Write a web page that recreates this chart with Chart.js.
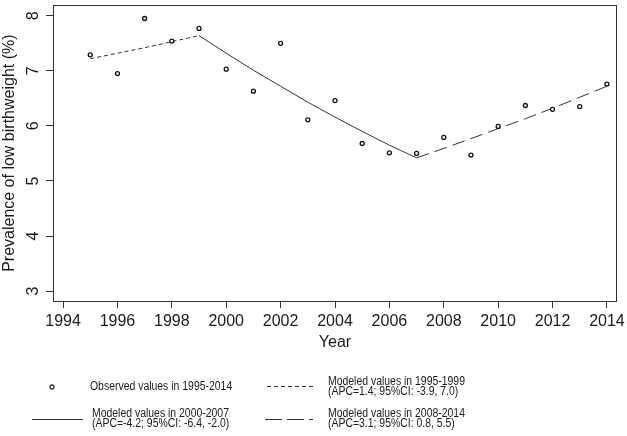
<!DOCTYPE html>
<html>
<head>
<meta charset="utf-8">
<script src="https://cdn.jsdelivr.net/npm/chart.js@4.4.0/dist/chart.umd.min.js"></script>
<style>
  html, body { margin: 0; padding: 0; background: #fff; }
</style>
</head>
<body>
<canvas id="lbw" width="627" height="436"></canvas>
<script>
// observed prevalence of low birthweight (%)
var years = [1995, 1996, 1997, 1998, 1999, 2000, 2001, 2002, 2003, 2004,
             2005, 2006, 2007, 2008, 2009, 2010, 2011, 2012, 2013, 2014];
var observed = [7.29, 6.95, 7.95, 7.54, 7.77, 7.03, 6.63, 7.50, 6.11, 6.46,
                5.68, 5.51, 5.50, 5.79, 5.47, 5.99, 6.37, 6.30, 6.35, 6.76];

// joinpoint segments
var seg1Years = [1995, 1996, 1997, 1998, 1999];
var seg1 = [7.22, 7.32, 7.42, 7.53, 7.64];
var seg2Years = [1999, 2000, 2001, 2002, 2003, 2004, 2005, 2006, 2007];
var seg2 = [7.64, 7.32, 7.01, 6.72, 6.43, 6.16, 5.90, 5.65, 5.42];
var seg3Years = [2007, 2008, 2009, 2010, 2011, 2012, 2013, 2014];
var seg3 = [5.42, 5.59, 5.77, 5.95, 6.13, 6.32, 6.52, 6.72];

var legendText = [
  ['Observed values in 1995-2014'],
  ['Modeled values in 1995-1999', '(APC=1.4; 95%CI: -3.9, 7.0)'],
  ['Modeled values in 2000-2007', '(APC=-4.2; 95%CI: -6.4, -2.0)'],
  ['Modeled values in 2008-2014', '(APC=3.1; 95%CI: 0.8, 5.5)']
];

function pts(xs, ys) {
  return xs.map(function (x, i) { return { x: x, y: ys[i] }; });
}

var ink = '#1a1a1a';
var lineCol = '#333';
var shortDash = [4, 3];
var longDash = [13, 6];

Chart.defaults.font.family = '"Liberation Sans", Arial, sans-serif';
Chart.defaults.color = ink;

// R-style legend under the plot + full box around the plot region
var rLegend = {
  id: 'rLegend',
  afterDraw: function (chart) {
    var c = chart.ctx, a = chart.chartArea;
    c.save();
    c.strokeStyle = lineCol;
    c.lineWidth = 1;
    c.strokeRect(Math.round(a.left) + 0.5, Math.round(a.top) + 0.5,
                 Math.round(a.right - a.left) - 1, Math.round(a.bottom - a.top));

    c.fillStyle = ink;
    c.font = '12px "Liberation Sans", Arial, sans-serif';
    c.textBaseline = 'middle';
    c.textAlign = 'left';

    // legend font is a bit condensed in the original
    function txt(s, x, y) {
      c.save();
      c.translate(x, y);
      c.scale(0.87, 1);
      c.fillText(s, 0, 0);
      c.restore();
    }

    // observed marker
    c.beginPath();
    c.arc(52, 387, 2, 0, Math.PI * 2);
    c.lineWidth = 1.3;
    c.stroke();
    txt(legendText[0][0], 90, 387);

    function seg(x0, x1, y, dash) {
      c.beginPath();
      c.setLineDash(dash);
      c.lineWidth = 1;
      c.moveTo(x0, y + 0.5);
      c.lineTo(x1, y + 0.5);
      c.stroke();
      c.setLineDash([]);
    }
    seg(267, 316, 386, shortDash);
    txt(legendText[1][0], 328, 382);
    txt(legendText[1][1], 328, 392);

    seg(32, 83, 419, []);
    txt(legendText[2][0], 92, 413.5);
    txt(legendText[2][1], 92, 423.5);

    seg(265, 313, 419, [17, 5]);
    txt(legendText[3][0], 328, 413.5);
    txt(legendText[3][1], 328, 423.5);
    c.restore();
  }
};

new Chart(document.getElementById('lbw'), {
  type: 'scatter',
  data: {
    datasets: [
      {
        label: 'Observed values in 1995-2014',
        data: pts(years, observed),
        pointStyle: 'circle',
        pointRadius: 2,
        pointBorderWidth: 1.3,
        pointBorderColor: '#111',
        pointBackgroundColor: '#fff',
        showLine: false,
        order: 0
      },
      {
        label: 'Modeled values in 1995-1999',
        data: pts(seg1Years, seg1),
        showLine: true,
        borderColor: lineCol,
        borderWidth: 1,
        borderDash: shortDash,
        pointRadius: 0,
        order: 1
      },
      {
        label: 'Modeled values in 2000-2007',
        data: pts(seg2Years, seg2),
        showLine: true,
        borderColor: lineCol,
        borderWidth: 1,
        pointRadius: 0,
        order: 1
      },
      {
        label: 'Modeled values in 2008-2014',
        data: pts(seg3Years, seg3),
        showLine: true,
        borderColor: lineCol,
        borderWidth: 1,
        borderDash: longDash,
        pointRadius: 0,
        order: 1
      }
    ]
  },
  options: {
    responsive: false,
    animation: false,
    layout: { padding: { left: 0, right: 10, top: 3, bottom: 84 } },
    plugins: {
      legend: { display: false },
      tooltip: { enabled: false }
    },
    scales: {
      x: {
        type: 'linear',
        min: 1993.63,
        max: 2014.37,
        border: { display: false },
        grid: { drawOnChartArea: false, drawTicks: true, tickLength: 7, color: lineCol },
        ticks: {
          stepSize: 2,
          includeBounds: false,
          padding: 4,
          maxRotation: 0,
          font: { size: 16 },
          color: ink,
          callback: function (v) { return String(v); }
        },
        title: { display: true, text: 'Year', font: { size: 16 }, color: ink, padding: 0 },
        afterFit: function (s) { s.height = 51; s.paddingLeft = 0; s.paddingRight = 0; }
      },
      y: {
        min: 2.82,
        max: 8.19,
        border: { display: false },
        grid: { drawOnChartArea: false, drawTicks: true, tickLength: 7, color: lineCol },
        ticks: {
          stepSize: 1,
          includeBounds: false,
          minRotation: 90,
          maxRotation: 90,
          crossAlign: 'center',
          padding: 8,
          font: { size: 16 },
          color: ink,
          callback: function (v) { return String(v); }
        },
        title: {
          display: true,
          text: 'Prevalence of low birthweight (%)',
          font: { size: 16 },
          color: ink,
          padding: 0
        },
        afterFit: function (s) { s.width = 53; s.paddingTop = 0; s.paddingBottom = 0; }
      }
    }
  },
  plugins: [rLegend]
});
</script>
</body>
</html>
